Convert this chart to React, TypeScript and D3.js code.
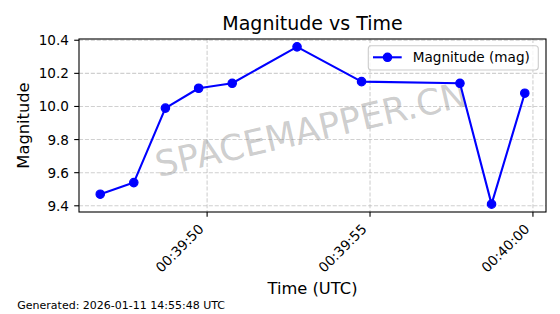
import React from "react";
import * as d3 from "d3";

const times: string[] = [
  "00:39:46.72", "00:39:47.75", "00:39:48.72", "00:39:49.74", "00:39:50.77",
  "00:39:52.76", "00:39:54.74", "00:39:57.76", "00:39:58.73", "00:39:59.75",
];
const magnitudes: number[] = [9.47, 9.54, 9.99, 10.11, 10.14, 10.36, 10.15, 10.14, 9.41, 10.08];
const yTicks: number[] = [9.4, 9.6, 9.8, 10.0, 10.2, 10.4];
const baseDate = "2026-01-11";
const titleText = "Magnitude vs Time";
const xLabel = "Time (UTC)";
const yLabel = "Magnitude";
const legendLabel = "Magnitude (mag)";
const footerText = "Generated: 2026-01-11 14:55:48 UTC";
const watermark = "SPACEMAPPER.CN";

const W = 560, H = 314;
const L = 79, R = 546, T = 39, B = 212;
const FONT = "'DejaVu Sans', sans-serif";
const BLUE = "#0000ff";

function parseT(s: string): Date {
  return new Date(`${baseDate}T${s}Z`);
}

export default function App() {
  const dates = times.map(parseT);
  const [x0, x1] = d3.extent(dates, (d) => d.getTime()) as [number, number];
  const xm = (x1 - x0) * 0.05;
  const x = d3.scaleUtc().domain([new Date(x0 - xm), new Date(x1 + xm)]).range([L, R]);
  const [y0, y1] = d3.extent(magnitudes) as [number, number];
  const ym = (y1 - y0) * 0.05;
  const y = d3.scaleLinear().domain([y0 - ym, y1 + ym]).range([B, T]);
  const xTicks = x.ticks(d3.utcSecond.every(5) as any);
  const fmt = d3.utcFormat("%H:%M:%S");
  const pts = dates.map((d, i) => [x(d), y(magnitudes[i])] as [number, number]);
  const line = d3.line()(pts) || "";

  return (
    <svg width={W} height={H} style={{ display: "block", position: "absolute", left: 0, top: 0 }} fontFamily={FONT}>
      <rect width={W} height={H} fill="#fff" />
      <text x={(L + R) / 2} y={30} textAnchor="middle" fontSize={19} fill="#000">{titleText}</text>
      {/* grid */}
      <g stroke="#b0b0b0" strokeOpacity={0.6} strokeWidth={1.1} strokeDasharray="4.1 1.8">
        {xTicks.map((t, i) => (
          <line key={"gx" + i} x1={x(t)} x2={x(t)} y1={T} y2={B} />
        ))}
        {yTicks.map((t, i) => (
          <line key={"gy" + i} x1={L} x2={R} y1={y(t)} y2={y(t)} />
        ))}
      </g>
      {/* watermark */}
      <g transform={`translate(311,129) rotate(-13)`}>
        <text x={0} y={12.8} textAnchor="middle" fontSize={35.5} fill="gray" fillOpacity={0.4}>{watermark}</text>
      </g>
      {/* line */}
      <path d={line} fill="none" stroke={BLUE} strokeWidth={2.1} strokeLinejoin="round" />
      {pts.map((p, i) => (
        <circle key={"p" + i} cx={p[0]} cy={p[1]} r={4.2} fill={BLUE} stroke={BLUE} strokeWidth={1.2} />
      ))}
      {/* spines */}
      <rect x={L} y={T} width={R - L} height={B - T} fill="none" stroke="#000" strokeWidth={1.1} />
      {/* y ticks */}
      {yTicks.map((t, i) => (
        <g key={"yt" + i}>
          <line x1={L - 4.8} x2={L} y1={y(t)} y2={y(t)} stroke="#000" strokeWidth={1.1} />
          <text x={L - 10} y={y(t) + 5} textAnchor="end" fontSize={13.6} fill="#000">{t.toFixed(1)}</text>
        </g>
      ))}
      {/* x ticks */}
      {xTicks.map((t, i) => (
        <g key={"xt" + i}>
          <line x1={x(t)} x2={x(t)} y1={B} y2={B + 4.8} stroke="#000" strokeWidth={1.1} />
          <text transform={`translate(${x(t) - 2.5},${230}) rotate(-45)`} textAnchor="end" fontSize={13.6} fill="#000">{fmt(t)}</text>
        </g>
      ))}
      <text x={(L + R) / 2} y={294} textAnchor="middle" fontSize={16.3} fill="#000">{xLabel}</text>
      <text transform={`translate(29,${(T + B) / 2}) rotate(-90)`} textAnchor="middle" fontSize={16.3} fill="#000">{yLabel}</text>
      {/* legend */}
      <rect x={368.3} y={45.7} width={170} height={24.3} rx={3} fill="#fff" fillOpacity={0.8} stroke="#cccccc" strokeWidth={1.1} />
      <line x1={373} x2={401.7} y1={57.3} y2={57.3} stroke={BLUE} strokeWidth={2.1} />
      <circle cx={387.5} cy={57.3} r={4.2} fill={BLUE} stroke={BLUE} strokeWidth={1.2} />
      <text x={412.7} y={62.3} fontSize={13.6} fill="#000">{legendLabel}</text>
      <text x={17.3} y={309} fontSize={11} fill="#000">{footerText}</text>
    </svg>
  );
}
